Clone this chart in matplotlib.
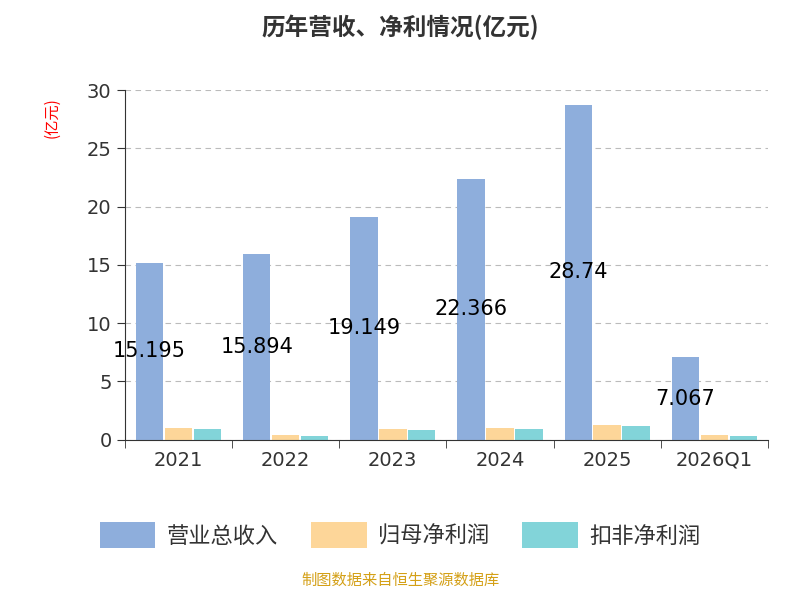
import matplotlib
matplotlib.use("Agg")
import matplotlib.pyplot as plt
import numpy as np

plt.rcParams['font.family'] = ['Noto Sans CJK SC', 'DejaVu Sans']

years = ['2021', '2022', '2023', '2024', '2025', '2026Q1']
revenue = [15.195, 15.894, 19.149, 22.366, 28.74, 7.067]
net_profit = [1.02, 0.45, 0.92, 1.02, 1.25, 0.38]
deducted_profit = [0.92, 0.35, 0.82, 0.95, 1.18, 0.36]

fig = plt.figure(figsize=(8, 6), dpi=100)
ax = fig.add_axes([0.156, 0.267, 0.804, 0.583])

x = np.arange(len(years))
w = 0.27
ax.bar(x - w, revenue, w * 0.95, color='#8eaedc', label='营业总收入')
ax.bar(x, net_profit, w * 0.95, color='#fdd699', label='归母净利润')
ax.bar(x + w, deducted_profit, w * 0.95, color='#82d4d9', label='扣非净利润')

for xi, v in zip(x, revenue):
    ax.text(xi - w, v / 2, f'{v:g}', ha='center', va='center', fontsize=15,
            color='black', family='DejaVu Sans')

ax.set_xlim(-0.5, len(years) - 0.5)
ax.set_ylim(0, 30)
ax.set_yticks(range(0, 31, 5))
ax.set_xticks(x)
ax.set_xticklabels(years, family='DejaVu Sans')
for lbl in ax.get_yticklabels():
    lbl.set_family('DejaVu Sans')
ax.set_xticks(np.arange(-0.5, len(years), 1), minor=True)
ax.tick_params(axis='x', which='major', length=0, labelsize=14, pad=8, labelcolor='#333333')
ax.tick_params(axis='x', which='minor', length=6, color='#333333')
ax.tick_params(axis='y', labelsize=14, length=6, color='#333333', labelcolor='#333333')
for lbl in ax.get_yticklabels():
    lbl.set_family('DejaVu Sans')
ax.yaxis.grid(True, linestyle=(0, (5, 4)), color='#bbbbbb')
ax.set_axisbelow(True)
for s in ['top', 'right']:
    ax.spines[s].set_visible(False)
ax.spines['left'].set_color('#333333')
ax.spines['bottom'].set_color('#333333')
ax.set_ylabel('(亿元)', color='red', fontsize=11)
ax.yaxis.set_label_coords(-0.1, 0.92)

fig.text(0.5, 0.955, '历年营收、净利情况(亿元)', ha='center', va='center', fontsize=17, fontweight='bold', color='#333333')
fig.legend(loc='center', bbox_to_anchor=(0.5, 0.108), ncol=3, frameon=False, fontsize=16,
           handlelength=2.5, handleheight=1.4, columnspacing=1.5, handletextpad=0.5,
           labelcolor='#333333')
fig.text(0.5, 0.018, '制图数据来自恒生聚源数据库', ha='center', va='bottom', fontsize=11, color='#d4a017')

fig.savefig('out.png', dpi=100)
